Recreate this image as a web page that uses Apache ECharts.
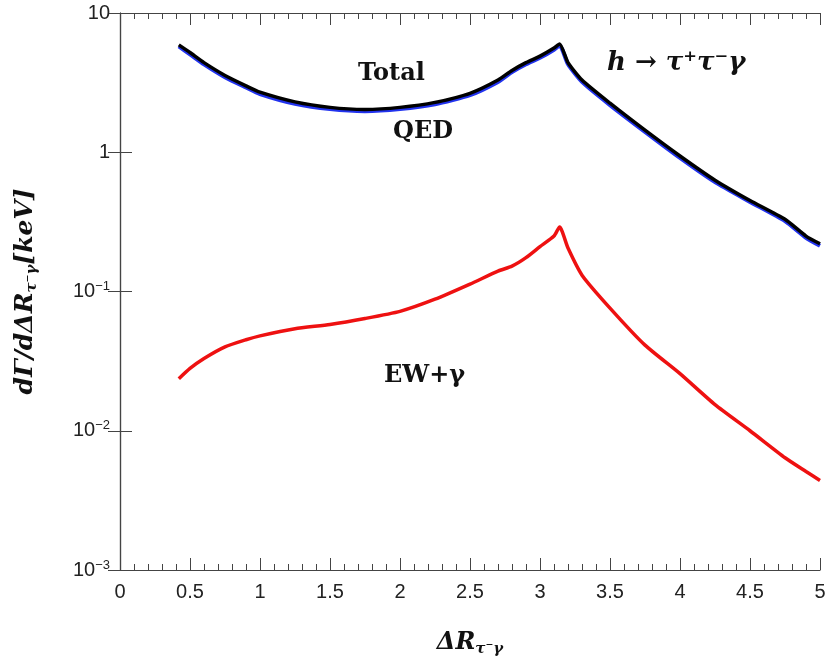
<!DOCTYPE html><html><head><meta charset="utf-8">
<script src="https://cdn.jsdelivr.net/npm/echarts@6/dist/echarts.min.js"></script>
<style>html,body{margin:0;padding:0;background:#fff}#c{width:830px;height:670px}</style></head><body><div id="c"></div>
<script>
const xs = [0.42,0.5,0.6,0.75,0.9,1.0,1.25,1.5,1.75,2.0,2.25,2.5,2.7,2.8,2.9,3.0,3.1,3.14,3.2,3.3,3.5,3.75,4.0,4.25,4.5,4.75,4.9,5.0];
const total = [5.9,5.2,4.4,3.56,3.0,2.7,2.3,2.1,2.03,2.1,2.28,2.65,3.3,3.87,4.4,4.9,5.6,6.0,4.4,3.3,2.25,1.44,0.94,0.63,0.45,0.33,0.25,0.22];
const qed = [5.75,5.05,4.28,3.46,2.92,2.62,2.23,2.04,1.97,2.04,2.21,2.57,3.2,3.76,4.28,4.77,5.45,5.85,4.28,3.2,2.18,1.4,0.91,0.61,0.44,0.32,0.243,0.213];
const ew = [0.0236,0.028,0.033,0.04,0.045,0.048,0.054,0.058,0.064,0.072,0.088,0.113,0.14,0.152,0.175,0.21,0.25,0.29,0.205,0.131,0.076,0.0412,0.0257,0.0154,0.01,0.0064,0.0051,0.0044];
const yTicks = {10:'10',1:'1',0.1:'10{s|−1}',0.01:'10{s|−2}',0.001:'10{s|−3}'};
const pair = a => xs.map((x,i)=>[x,a[i]]);
const ch = echarts.init(document.getElementById('c'));
const lab = {color:'#222',fontSize:20,fontFamily:'Liberation Sans'};
const ax = {show:true,lineStyle:{color:'#444',width:1.2}};
const serif = 'DejaVu Serif';
ch.setOption({
 animation:false,
 grid:{left:120,right:10,top:13,bottom:100},
 xAxis:[{type:'value',min:0,max:5,interval:0.5,axisLine:ax,axisTick:{inside:true,length:12,lineStyle:{color:'#444'}},
   minorTick:{show:true,splitNumber:5,length:6,lineStyle:{color:'#444'}},splitLine:{show:false},
   axisLabel:Object.assign({margin:12},lab),
   name:'ΔR{s|τ⁻γ}',nameLocation:'middle',nameGap:58,
   nameTextStyle:{fontFamily:serif,fontWeight:'bold',fontStyle:'italic',fontSize:24,color:'#111',rich:{s:{fontSize:15,fontFamily:serif,fontStyle:'italic',fontWeight:'bold',verticalAlign:'bottom',padding:[14,0,0,0]}}}},
  {type:'value',position:'top',min:0,max:5,interval:0.5,axisLine:ax,axisTick:{inside:true,length:12,lineStyle:{color:'#444'}},
   minorTick:{show:true,splitNumber:5,length:6,lineStyle:{color:'#444'}},axisLabel:{show:false},splitLine:{show:false}}],
 yAxis:[{type:'log',min:0.001,max:10,logBase:10,axisLine:ax,axisTick:{inside:true,length:12,lineStyle:{color:'#444'}},
   splitLine:{show:false},
   axisLabel:Object.assign({margin:10,formatter:v=>yTicks[+v.toPrecision(3)]||'',rich:{s:{fontSize:13,fontFamily:'Liberation Sans',color:'#222',verticalAlign:'top',padding:[0,0,10,0]}}},lab),
   name:'dΓ/dΔR{s|τ⁻γ}[keV]',nameLocation:'middle',nameGap:80,nameRotate:90,
   nameTextStyle:{fontFamily:serif,fontWeight:'bold',fontStyle:'italic',fontSize:25,color:'#111',rich:{s:{fontSize:15,fontFamily:serif,fontStyle:'italic',fontWeight:'bold',padding:[14,0,0,0]}}}},
  {type:'log',position:'right',min:0.001,max:10,axisLine:ax,axisTick:{inside:true,length:12,lineStyle:{color:'#444'}},
   axisLabel:{show:false},splitLine:{show:false}}],
 series:[
  {type:'line',data:pair(ew),symbol:'none',smooth:0.2,lineStyle:{color:'#ee1111',width:3.5}},
  {type:'line',data:pair(qed),symbol:'none',smooth:0.2,lineStyle:{color:'#2233ee',width:4}},
  {type:'line',data:pair(total),symbol:'none',smooth:0.2,lineStyle:{color:'#000',width:3.5}}
 ],
 graphic:[
  {type:'text',left:358,top:62,style:{text:'Total',font:'bold 24px "DejaVu Serif"',fill:'#111'}},
  {type:'text',left:393,top:120,style:{text:'QED',font:'bold 24px "DejaVu Serif"',fill:'#111'}},
  {type:'text',left:384,top:364,style:{text:'EW+γ',font:'bold 24px "DejaVu Serif"',fill:'#111'}},
  {type:'text',left:607,top:50,style:{text:'h → τ⁺τ⁻γ',font:'italic bold 26px "DejaVu Serif"',fill:'#111'}}
 ]
});
</script></body></html>
